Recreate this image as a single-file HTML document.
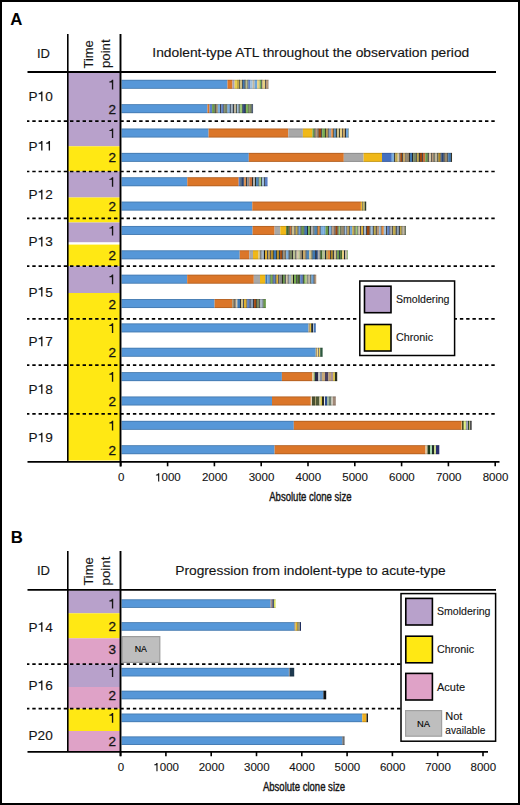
<!DOCTYPE html>
<html><head><meta charset="utf-8"><style>
html,body{margin:0;padding:0;background:#fff;}
body{width:520px;height:805px;overflow:hidden;position:relative;}
#frame{position:absolute;left:0;top:0;width:520px;height:805px;box-sizing:border-box;border:2px solid #000;}
svg{position:absolute;left:0;top:0;font-family:"Liberation Sans", sans-serif;}
</style></head><body>
<svg width="520" height="805" viewBox="0 0 520 805">
<text x="10.30" y="25.20" font-size="16.8" text-anchor="start" fill="#000" font-weight="bold">A</text>
<text x="37.00" y="57.50" font-size="13" text-anchor="start" fill="#141414" stroke="#141414" stroke-width="0.12">ID</text>
<text x="92.90" y="68.40" font-size="13.2" text-anchor="start" fill="#141414" stroke="#141414" stroke-width="0.12" textLength="28.2" lengthAdjust="spacingAndGlyphs" transform="rotate(-90 92.90 68.40)">Time</text>
<text x="109.90" y="68.10" font-size="12.8" text-anchor="start" fill="#141414" stroke="#141414" stroke-width="0.12" textLength="28.8" lengthAdjust="spacingAndGlyphs" transform="rotate(-90 109.90 68.10)">point</text>
<text x="310.80" y="57.20" font-size="12.3" text-anchor="middle" fill="#141414" stroke="#141414" stroke-width="0.12" textLength="317" lengthAdjust="spacingAndGlyphs">Indolent-type ATL throughout the observation period</text>
<rect x="68.00" y="73.00" width="52.50" height="48.20" fill="#B8A1CB"/>
<rect x="68.00" y="121.20" width="52.50" height="25.10" fill="#B8A1CB"/>
<rect x="68.00" y="146.30" width="52.50" height="25.20" fill="#FFE814"/>
<rect x="68.00" y="171.50" width="52.50" height="26.00" fill="#B8A1CB"/>
<rect x="68.00" y="197.50" width="52.50" height="25.00" fill="#FFE814"/>
<rect x="68.00" y="222.50" width="52.50" height="19.70" fill="#B8A1CB"/>
<rect x="68.00" y="244.60" width="52.50" height="21.60" fill="#FFE814"/>
<rect x="68.00" y="266.20" width="52.50" height="26.80" fill="#B8A1CB"/>
<rect x="68.00" y="293.00" width="52.50" height="25.90" fill="#FFE814"/>
<rect x="68.00" y="318.90" width="52.50" height="141.60" fill="#FFE814"/>
<rect x="121.50" y="79.80" width="106.00" height="9.00" fill="#5697D8"/>
<rect x="227.50" y="79.80" width="5.00" height="9.00" fill="#DB7629"/>
<rect x="232.50" y="79.80" width="2.10" height="9.00" fill="#A8A0B8"/>
<rect x="234.60" y="79.80" width="2.40" height="9.00" fill="#E8D050"/>
<rect x="237.00" y="79.80" width="2.05" height="9.00" fill="#C0A848"/>
<rect x="239.00" y="79.80" width="0.85" height="9.00" fill="#2a3020"/>
<rect x="239.80" y="79.80" width="2.25" height="9.00" fill="#D0C088"/>
<rect x="242.00" y="79.80" width="0.85" height="9.00" fill="#303030"/>
<rect x="242.80" y="79.80" width="1.85" height="9.00" fill="#3F78B0"/>
<rect x="244.60" y="79.80" width="1.05" height="9.00" fill="#1c1c1c"/>
<rect x="245.60" y="79.80" width="2.05" height="9.00" fill="#B8C090"/>
<rect x="247.60" y="79.80" width="0.85" height="9.00" fill="#222630"/>
<rect x="248.40" y="79.80" width="2.05" height="9.00" fill="#5A80C8"/>
<rect x="250.40" y="79.80" width="2.25" height="9.00" fill="#A0C0DC"/>
<rect x="252.60" y="79.80" width="2.05" height="9.00" fill="#C0B8A0"/>
<rect x="254.60" y="79.80" width="2.65" height="9.00" fill="#6BA3D8"/>
<rect x="257.20" y="79.80" width="2.45" height="9.00" fill="#E8D080"/>
<rect x="259.60" y="79.80" width="1.85" height="9.00" fill="#78B050"/>
<rect x="261.40" y="79.80" width="1.05" height="9.00" fill="#222630"/>
<rect x="262.40" y="79.80" width="2.65" height="9.00" fill="#E8D080"/>
<rect x="265.00" y="79.80" width="0.85" height="9.00" fill="#222630"/>
<rect x="265.80" y="79.80" width="2.45" height="9.00" fill="#B89878"/>
<rect x="268.20" y="79.80" width="0.35" height="9.00" fill="#8A8A8A"/>
<rect x="121.50" y="79.80" width="147.00" height="0.90" fill="rgba(0,0,0,0.18)"/>
<rect x="121.50" y="87.90" width="147.00" height="0.90" fill="rgba(0,0,0,0.18)"/>
<rect x="121.50" y="104.16" width="86.00" height="9.00" fill="#5697D8"/>
<rect x="207.50" y="104.16" width="2.00" height="9.00" fill="#DB7629"/>
<rect x="209.50" y="104.16" width="2.65" height="9.00" fill="#5A80C8"/>
<rect x="212.10" y="104.16" width="2.65" height="9.00" fill="#6A9A49"/>
<rect x="214.70" y="104.16" width="1.15" height="9.00" fill="#303030"/>
<rect x="215.80" y="104.16" width="2.05" height="9.00" fill="#9A8A6A"/>
<rect x="217.80" y="104.16" width="2.45" height="9.00" fill="#7CAFDD"/>
<rect x="220.20" y="104.16" width="1.05" height="9.00" fill="#1c1c1c"/>
<rect x="221.20" y="104.16" width="2.25" height="9.00" fill="#5A80C8"/>
<rect x="223.40" y="104.16" width="1.05" height="9.00" fill="#303030"/>
<rect x="224.40" y="104.16" width="2.25" height="9.00" fill="#7A8A60"/>
<rect x="226.60" y="104.16" width="0.85" height="9.00" fill="#2a3020"/>
<rect x="227.40" y="104.16" width="2.45" height="9.00" fill="#7CAFDD"/>
<rect x="229.80" y="104.16" width="1.05" height="9.00" fill="#1f2a3a"/>
<rect x="230.80" y="104.16" width="2.05" height="9.00" fill="#A6B8C8"/>
<rect x="232.80" y="104.16" width="1.15" height="9.00" fill="#1f2a3a"/>
<rect x="233.90" y="104.16" width="2.25" height="9.00" fill="#C0B8A0"/>
<rect x="236.10" y="104.16" width="0.85" height="9.00" fill="#2a3020"/>
<rect x="236.90" y="104.16" width="1.85" height="9.00" fill="#A0C0DC"/>
<rect x="238.70" y="104.16" width="1.05" height="9.00" fill="#222630"/>
<rect x="239.70" y="104.16" width="2.65" height="9.00" fill="#9CC878"/>
<rect x="242.30" y="104.16" width="0.85" height="9.00" fill="#1f2a3a"/>
<rect x="243.10" y="104.16" width="2.25" height="9.00" fill="#264478"/>
<rect x="245.30" y="104.16" width="0.85" height="9.00" fill="#1c1c1c"/>
<rect x="246.10" y="104.16" width="2.45" height="9.00" fill="#78B050"/>
<rect x="248.50" y="104.16" width="0.85" height="9.00" fill="#2a3020"/>
<rect x="249.30" y="104.16" width="2.25" height="9.00" fill="#7A8A60"/>
<rect x="251.50" y="104.16" width="1.15" height="9.00" fill="#1f2a3a"/>
<rect x="252.60" y="104.16" width="0.45" height="9.00" fill="#264478"/>
<rect x="121.50" y="104.16" width="131.50" height="0.90" fill="rgba(0,0,0,0.18)"/>
<rect x="121.50" y="112.26" width="131.50" height="0.90" fill="rgba(0,0,0,0.18)"/>
<rect x="121.50" y="128.52" width="87.10" height="9.00" fill="#5697D8"/>
<rect x="208.60" y="128.52" width="79.70" height="9.00" fill="#DB7629"/>
<rect x="288.30" y="128.52" width="14.60" height="9.00" fill="#A8A8A8"/>
<rect x="302.90" y="128.52" width="9.60" height="9.00" fill="#F0B818"/>
<rect x="312.50" y="128.52" width="2.05" height="9.00" fill="#6A9A49"/>
<rect x="314.50" y="128.52" width="1.15" height="9.00" fill="#303030"/>
<rect x="315.60" y="128.52" width="2.05" height="9.00" fill="#B89878"/>
<rect x="317.60" y="128.52" width="1.05" height="9.00" fill="#303030"/>
<rect x="318.60" y="128.52" width="2.65" height="9.00" fill="#9E480E"/>
<rect x="321.20" y="128.52" width="1.15" height="9.00" fill="#303030"/>
<rect x="322.30" y="128.52" width="2.65" height="9.00" fill="#78B050"/>
<rect x="324.90" y="128.52" width="1.05" height="9.00" fill="#2a3020"/>
<rect x="325.90" y="128.52" width="2.05" height="9.00" fill="#B89A50"/>
<rect x="327.90" y="128.52" width="0.85" height="9.00" fill="#222630"/>
<rect x="328.70" y="128.52" width="2.65" height="9.00" fill="#8AA0B8"/>
<rect x="331.30" y="128.52" width="2.05" height="9.00" fill="#E08A40"/>
<rect x="333.30" y="128.52" width="1.05" height="9.00" fill="#2a3020"/>
<rect x="334.30" y="128.52" width="1.85" height="9.00" fill="#4F86B8"/>
<rect x="336.10" y="128.52" width="1.05" height="9.00" fill="#2a3020"/>
<rect x="337.10" y="128.52" width="2.05" height="9.00" fill="#D0C088"/>
<rect x="339.10" y="128.52" width="1.05" height="9.00" fill="#2a3020"/>
<rect x="340.10" y="128.52" width="2.05" height="9.00" fill="#E8D080"/>
<rect x="342.10" y="128.52" width="0.85" height="9.00" fill="#303030"/>
<rect x="342.90" y="128.52" width="2.05" height="9.00" fill="#C8A868"/>
<rect x="344.90" y="128.52" width="1.15" height="9.00" fill="#303030"/>
<rect x="346.00" y="128.52" width="2.45" height="9.00" fill="#6BA3D8"/>
<rect x="348.40" y="128.52" width="0.45" height="9.00" fill="#7A8A60"/>
<rect x="121.50" y="128.52" width="227.30" height="0.90" fill="rgba(0,0,0,0.18)"/>
<rect x="121.50" y="136.62" width="227.30" height="0.90" fill="rgba(0,0,0,0.18)"/>
<rect x="121.50" y="152.88" width="127.30" height="9.00" fill="#5697D8"/>
<rect x="248.80" y="152.88" width="95.00" height="9.00" fill="#DB7629"/>
<rect x="343.80" y="152.88" width="19.80" height="9.00" fill="#A8A8A8"/>
<rect x="363.60" y="152.88" width="18.40" height="9.00" fill="#F0B818"/>
<rect x="382.00" y="152.88" width="9.80" height="9.00" fill="#4570C0"/>
<rect x="391.80" y="152.88" width="2.45" height="9.00" fill="#7CAFDD"/>
<rect x="394.20" y="152.88" width="1.15" height="9.00" fill="#1c1c1c"/>
<rect x="395.30" y="152.88" width="2.45" height="9.00" fill="#C0A848"/>
<rect x="397.70" y="152.88" width="1.85" height="9.00" fill="#D8C8A8"/>
<rect x="399.50" y="152.88" width="0.85" height="9.00" fill="#303030"/>
<rect x="400.30" y="152.88" width="1.85" height="9.00" fill="#9E480E"/>
<rect x="402.10" y="152.88" width="0.85" height="9.00" fill="#222630"/>
<rect x="402.90" y="152.88" width="2.65" height="9.00" fill="#C8A868"/>
<rect x="405.50" y="152.88" width="1.05" height="9.00" fill="#303030"/>
<rect x="406.50" y="152.88" width="2.45" height="9.00" fill="#9A8A6A"/>
<rect x="408.90" y="152.88" width="1.15" height="9.00" fill="#303030"/>
<rect x="410.00" y="152.88" width="2.05" height="9.00" fill="#3F78B0"/>
<rect x="412.00" y="152.88" width="1.15" height="9.00" fill="#222630"/>
<rect x="413.10" y="152.88" width="2.65" height="9.00" fill="#7A8A60"/>
<rect x="415.70" y="152.88" width="1.15" height="9.00" fill="#1f2a3a"/>
<rect x="416.80" y="152.88" width="2.05" height="9.00" fill="#C0A848"/>
<rect x="418.80" y="152.88" width="1.15" height="9.00" fill="#303030"/>
<rect x="419.90" y="152.88" width="2.25" height="9.00" fill="#9E480E"/>
<rect x="422.10" y="152.88" width="0.85" height="9.00" fill="#222630"/>
<rect x="422.90" y="152.88" width="2.45" height="9.00" fill="#C8703A"/>
<rect x="425.30" y="152.88" width="2.45" height="9.00" fill="#6A9A49"/>
<rect x="427.70" y="152.88" width="1.15" height="9.00" fill="#1c1c1c"/>
<rect x="428.80" y="152.88" width="2.25" height="9.00" fill="#D8C8A8"/>
<rect x="431.00" y="152.88" width="0.85" height="9.00" fill="#303030"/>
<rect x="431.80" y="152.88" width="1.85" height="9.00" fill="#B89878"/>
<rect x="433.60" y="152.88" width="1.15" height="9.00" fill="#2a3020"/>
<rect x="434.70" y="152.88" width="2.65" height="9.00" fill="#C0B8A0"/>
<rect x="437.30" y="152.88" width="1.15" height="9.00" fill="#2a3020"/>
<rect x="438.40" y="152.88" width="2.25" height="9.00" fill="#B08820"/>
<rect x="440.60" y="152.88" width="0.85" height="9.00" fill="#1f2a3a"/>
<rect x="441.40" y="152.88" width="2.25" height="9.00" fill="#264478"/>
<rect x="443.60" y="152.88" width="1.15" height="9.00" fill="#222630"/>
<rect x="444.70" y="152.88" width="2.65" height="9.00" fill="#9A8A6A"/>
<rect x="447.30" y="152.88" width="1.05" height="9.00" fill="#222630"/>
<rect x="448.30" y="152.88" width="2.65" height="9.00" fill="#3F78B0"/>
<rect x="450.90" y="152.88" width="1.05" height="9.00" fill="#1c1c1c"/>
<rect x="451.90" y="152.88" width="0.15" height="9.00" fill="#C0A848"/>
<rect x="121.50" y="152.88" width="330.50" height="0.90" fill="rgba(0,0,0,0.18)"/>
<rect x="121.50" y="160.98" width="330.50" height="0.90" fill="rgba(0,0,0,0.18)"/>
<rect x="121.50" y="177.24" width="65.80" height="9.00" fill="#5697D8"/>
<rect x="187.30" y="177.24" width="51.40" height="9.00" fill="#DB7629"/>
<rect x="238.70" y="177.24" width="1.85" height="9.00" fill="#5A80C8"/>
<rect x="240.50" y="177.24" width="0.85" height="9.00" fill="#2a3020"/>
<rect x="241.30" y="177.24" width="2.25" height="9.00" fill="#264478"/>
<rect x="243.50" y="177.24" width="0.85" height="9.00" fill="#222630"/>
<rect x="244.30" y="177.24" width="1.85" height="9.00" fill="#E08A40"/>
<rect x="246.10" y="177.24" width="1.15" height="9.00" fill="#1f2a3a"/>
<rect x="247.20" y="177.24" width="2.25" height="9.00" fill="#8A8A8A"/>
<rect x="249.40" y="177.24" width="2.65" height="9.00" fill="#C8703A"/>
<rect x="252.00" y="177.24" width="1.05" height="9.00" fill="#303030"/>
<rect x="253.00" y="177.24" width="2.05" height="9.00" fill="#B0B0B0"/>
<rect x="255.00" y="177.24" width="1.05" height="9.00" fill="#2a3020"/>
<rect x="256.00" y="177.24" width="2.65" height="9.00" fill="#4F86B8"/>
<rect x="258.60" y="177.24" width="0.85" height="9.00" fill="#303030"/>
<rect x="259.40" y="177.24" width="1.85" height="9.00" fill="#9CC878"/>
<rect x="261.20" y="177.24" width="0.85" height="9.00" fill="#222630"/>
<rect x="262.00" y="177.24" width="2.25" height="9.00" fill="#A0C0DC"/>
<rect x="264.20" y="177.24" width="0.85" height="9.00" fill="#1f2a3a"/>
<rect x="265.00" y="177.24" width="2.55" height="9.00" fill="#5A80C8"/>
<rect x="121.50" y="177.24" width="146.00" height="0.90" fill="rgba(0,0,0,0.18)"/>
<rect x="121.50" y="185.34" width="146.00" height="0.90" fill="rgba(0,0,0,0.18)"/>
<rect x="121.50" y="201.60" width="130.80" height="9.00" fill="#5697D8"/>
<rect x="252.30" y="201.60" width="108.60" height="9.00" fill="#DB7629"/>
<rect x="360.90" y="201.60" width="1.40" height="9.00" fill="#E8B830"/>
<rect x="362.30" y="201.60" width="0.60" height="9.00" fill="#3A3A2A"/>
<rect x="362.90" y="201.60" width="1.80" height="9.00" fill="#C8B860"/>
<rect x="364.70" y="201.60" width="1.50" height="9.00" fill="#2A3A2A"/>
<rect x="121.50" y="201.60" width="244.70" height="0.90" fill="rgba(0,0,0,0.18)"/>
<rect x="121.50" y="209.70" width="244.70" height="0.90" fill="rgba(0,0,0,0.18)"/>
<rect x="121.50" y="225.96" width="131.10" height="9.00" fill="#5697D8"/>
<rect x="252.60" y="225.96" width="22.00" height="9.00" fill="#DB7629"/>
<rect x="274.60" y="225.96" width="5.70" height="9.00" fill="#A8A8A8"/>
<rect x="280.30" y="225.96" width="5.90" height="9.00" fill="#F0B818"/>
<rect x="286.20" y="225.96" width="2.45" height="9.00" fill="#43682B"/>
<rect x="288.60" y="225.96" width="1.15" height="9.00" fill="#2a3020"/>
<rect x="289.70" y="225.96" width="1.85" height="9.00" fill="#C8703A"/>
<rect x="291.50" y="225.96" width="0.85" height="9.00" fill="#2a3020"/>
<rect x="292.30" y="225.96" width="2.25" height="9.00" fill="#D0C088"/>
<rect x="294.50" y="225.96" width="1.15" height="9.00" fill="#1f2a3a"/>
<rect x="295.60" y="225.96" width="2.05" height="9.00" fill="#C0A848"/>
<rect x="297.60" y="225.96" width="1.05" height="9.00" fill="#222630"/>
<rect x="298.60" y="225.96" width="2.05" height="9.00" fill="#6BA3D8"/>
<rect x="300.60" y="225.96" width="1.05" height="9.00" fill="#1c1c1c"/>
<rect x="301.60" y="225.96" width="2.25" height="9.00" fill="#6A9A49"/>
<rect x="303.80" y="225.96" width="0.85" height="9.00" fill="#222630"/>
<rect x="304.60" y="225.96" width="2.45" height="9.00" fill="#3F78B0"/>
<rect x="307.00" y="225.96" width="1.15" height="9.00" fill="#1f2a3a"/>
<rect x="308.10" y="225.96" width="1.85" height="9.00" fill="#78B050"/>
<rect x="309.90" y="225.96" width="1.05" height="9.00" fill="#2a3020"/>
<rect x="310.90" y="225.96" width="2.65" height="9.00" fill="#B0B0B0"/>
<rect x="313.50" y="225.96" width="1.05" height="9.00" fill="#2a3020"/>
<rect x="314.50" y="225.96" width="2.45" height="9.00" fill="#4F86B8"/>
<rect x="316.90" y="225.96" width="0.85" height="9.00" fill="#2a3020"/>
<rect x="317.70" y="225.96" width="2.05" height="9.00" fill="#E08A40"/>
<rect x="319.70" y="225.96" width="1.05" height="9.00" fill="#303030"/>
<rect x="320.70" y="225.96" width="2.65" height="9.00" fill="#7CAFDD"/>
<rect x="323.30" y="225.96" width="2.25" height="9.00" fill="#6BA3D8"/>
<rect x="325.50" y="225.96" width="2.65" height="9.00" fill="#6A9A49"/>
<rect x="328.10" y="225.96" width="1.05" height="9.00" fill="#303030"/>
<rect x="329.10" y="225.96" width="2.45" height="9.00" fill="#7CAFDD"/>
<rect x="331.50" y="225.96" width="0.85" height="9.00" fill="#303030"/>
<rect x="332.30" y="225.96" width="2.25" height="9.00" fill="#B89878"/>
<rect x="334.50" y="225.96" width="1.05" height="9.00" fill="#222630"/>
<rect x="335.50" y="225.96" width="2.05" height="9.00" fill="#9E480E"/>
<rect x="337.50" y="225.96" width="1.15" height="9.00" fill="#303030"/>
<rect x="338.60" y="225.96" width="1.85" height="9.00" fill="#9CC878"/>
<rect x="340.40" y="225.96" width="1.15" height="9.00" fill="#2a3020"/>
<rect x="341.50" y="225.96" width="2.45" height="9.00" fill="#9A8A6A"/>
<rect x="343.90" y="225.96" width="0.85" height="9.00" fill="#222630"/>
<rect x="344.70" y="225.96" width="1.85" height="9.00" fill="#A0C0DC"/>
<rect x="346.50" y="225.96" width="0.85" height="9.00" fill="#1f2a3a"/>
<rect x="347.30" y="225.96" width="2.05" height="9.00" fill="#B89A50"/>
<rect x="349.30" y="225.96" width="0.85" height="9.00" fill="#303030"/>
<rect x="350.10" y="225.96" width="2.25" height="9.00" fill="#6BA3D8"/>
<rect x="352.30" y="225.96" width="2.25" height="9.00" fill="#C0A848"/>
<rect x="354.50" y="225.96" width="1.15" height="9.00" fill="#303030"/>
<rect x="355.60" y="225.96" width="2.05" height="9.00" fill="#9CC878"/>
<rect x="357.60" y="225.96" width="0.85" height="9.00" fill="#1f2a3a"/>
<rect x="358.40" y="225.96" width="1.85" height="9.00" fill="#D8C8A8"/>
<rect x="360.20" y="225.96" width="1.15" height="9.00" fill="#222630"/>
<rect x="361.30" y="225.96" width="1.85" height="9.00" fill="#E0B030"/>
<rect x="363.10" y="225.96" width="0.85" height="9.00" fill="#303030"/>
<rect x="363.90" y="225.96" width="2.25" height="9.00" fill="#A6B8C8"/>
<rect x="366.10" y="225.96" width="0.85" height="9.00" fill="#1f2a3a"/>
<rect x="366.90" y="225.96" width="2.65" height="9.00" fill="#9E480E"/>
<rect x="369.50" y="225.96" width="1.15" height="9.00" fill="#303030"/>
<rect x="370.60" y="225.96" width="2.25" height="9.00" fill="#A0C0DC"/>
<rect x="372.80" y="225.96" width="1.05" height="9.00" fill="#1f2a3a"/>
<rect x="373.80" y="225.96" width="2.05" height="9.00" fill="#C0A848"/>
<rect x="375.80" y="225.96" width="1.05" height="9.00" fill="#303030"/>
<rect x="376.80" y="225.96" width="2.25" height="9.00" fill="#B89878"/>
<rect x="379.00" y="225.96" width="1.85" height="9.00" fill="#A0C0DC"/>
<rect x="380.80" y="225.96" width="0.85" height="9.00" fill="#303030"/>
<rect x="381.60" y="225.96" width="2.25" height="9.00" fill="#E08A40"/>
<rect x="383.80" y="225.96" width="2.45" height="9.00" fill="#A0C0DC"/>
<rect x="386.20" y="225.96" width="1.15" height="9.00" fill="#1c1c1c"/>
<rect x="387.30" y="225.96" width="2.25" height="9.00" fill="#5A80C8"/>
<rect x="389.50" y="225.96" width="1.05" height="9.00" fill="#303030"/>
<rect x="390.50" y="225.96" width="1.85" height="9.00" fill="#B0B0B0"/>
<rect x="392.30" y="225.96" width="0.85" height="9.00" fill="#1c1c1c"/>
<rect x="393.10" y="225.96" width="2.65" height="9.00" fill="#C0A848"/>
<rect x="395.70" y="225.96" width="1.15" height="9.00" fill="#222630"/>
<rect x="396.80" y="225.96" width="2.05" height="9.00" fill="#8AA0B8"/>
<rect x="398.80" y="225.96" width="1.15" height="9.00" fill="#303030"/>
<rect x="399.90" y="225.96" width="1.85" height="9.00" fill="#C0A848"/>
<rect x="401.70" y="225.96" width="0.85" height="9.00" fill="#303030"/>
<rect x="402.50" y="225.96" width="2.25" height="9.00" fill="#C0B8A0"/>
<rect x="404.70" y="225.96" width="0.85" height="9.00" fill="#1c1c1c"/>
<rect x="405.50" y="225.96" width="0.35" height="9.00" fill="#43682B"/>
<rect x="121.50" y="225.96" width="284.30" height="0.90" fill="rgba(0,0,0,0.18)"/>
<rect x="121.50" y="234.06" width="284.30" height="0.90" fill="rgba(0,0,0,0.18)"/>
<rect x="121.50" y="250.32" width="118.20" height="9.00" fill="#5697D8"/>
<rect x="239.70" y="250.32" width="9.50" height="9.00" fill="#DB7629"/>
<rect x="249.20" y="250.32" width="3.80" height="9.00" fill="#A8A8A8"/>
<rect x="253.00" y="250.32" width="5.50" height="9.00" fill="#F0B818"/>
<rect x="258.50" y="250.32" width="2.05" height="9.00" fill="#D0C088"/>
<rect x="260.50" y="250.32" width="1.05" height="9.00" fill="#222630"/>
<rect x="261.50" y="250.32" width="2.45" height="9.00" fill="#A6B8C8"/>
<rect x="263.90" y="250.32" width="1.15" height="9.00" fill="#1c1c1c"/>
<rect x="265.00" y="250.32" width="2.25" height="9.00" fill="#E0B030"/>
<rect x="267.20" y="250.32" width="1.15" height="9.00" fill="#222630"/>
<rect x="268.30" y="250.32" width="2.05" height="9.00" fill="#B89A50"/>
<rect x="270.30" y="250.32" width="0.85" height="9.00" fill="#1c1c1c"/>
<rect x="271.10" y="250.32" width="2.05" height="9.00" fill="#B08820"/>
<rect x="273.10" y="250.32" width="0.85" height="9.00" fill="#2a3020"/>
<rect x="273.90" y="250.32" width="2.25" height="9.00" fill="#3F78B0"/>
<rect x="276.10" y="250.32" width="1.05" height="9.00" fill="#2a3020"/>
<rect x="277.10" y="250.32" width="2.05" height="9.00" fill="#B08820"/>
<rect x="279.10" y="250.32" width="1.05" height="9.00" fill="#1f2a3a"/>
<rect x="280.10" y="250.32" width="2.25" height="9.00" fill="#9E480E"/>
<rect x="282.30" y="250.32" width="1.15" height="9.00" fill="#1f2a3a"/>
<rect x="283.40" y="250.32" width="2.05" height="9.00" fill="#9A8A6A"/>
<rect x="285.40" y="250.32" width="0.85" height="9.00" fill="#303030"/>
<rect x="286.20" y="250.32" width="2.45" height="9.00" fill="#7CAFDD"/>
<rect x="288.60" y="250.32" width="1.15" height="9.00" fill="#222630"/>
<rect x="289.70" y="250.32" width="2.25" height="9.00" fill="#7A8A60"/>
<rect x="291.90" y="250.32" width="1.15" height="9.00" fill="#303030"/>
<rect x="293.00" y="250.32" width="2.45" height="9.00" fill="#B8C090"/>
<rect x="295.40" y="250.32" width="1.15" height="9.00" fill="#303030"/>
<rect x="296.50" y="250.32" width="1.85" height="9.00" fill="#D8C8A8"/>
<rect x="298.30" y="250.32" width="1.85" height="9.00" fill="#B8C090"/>
<rect x="300.10" y="250.32" width="1.85" height="9.00" fill="#9A8A6A"/>
<rect x="301.90" y="250.32" width="1.15" height="9.00" fill="#303030"/>
<rect x="303.00" y="250.32" width="2.65" height="9.00" fill="#C8A868"/>
<rect x="305.60" y="250.32" width="1.05" height="9.00" fill="#1f2a3a"/>
<rect x="306.60" y="250.32" width="2.65" height="9.00" fill="#4F86B8"/>
<rect x="309.20" y="250.32" width="2.45" height="9.00" fill="#D0C088"/>
<rect x="311.60" y="250.32" width="1.05" height="9.00" fill="#2a3020"/>
<rect x="312.60" y="250.32" width="2.45" height="9.00" fill="#3F78B0"/>
<rect x="315.00" y="250.32" width="0.85" height="9.00" fill="#1c1c1c"/>
<rect x="315.80" y="250.32" width="2.05" height="9.00" fill="#264478"/>
<rect x="317.80" y="250.32" width="2.05" height="9.00" fill="#B0B0B0"/>
<rect x="319.80" y="250.32" width="0.85" height="9.00" fill="#2a3020"/>
<rect x="320.60" y="250.32" width="1.85" height="9.00" fill="#43682B"/>
<rect x="322.40" y="250.32" width="2.65" height="9.00" fill="#B8C090"/>
<rect x="325.00" y="250.32" width="1.05" height="9.00" fill="#1f2a3a"/>
<rect x="326.00" y="250.32" width="1.85" height="9.00" fill="#B89A50"/>
<rect x="327.80" y="250.32" width="2.45" height="9.00" fill="#E08A40"/>
<rect x="330.20" y="250.32" width="0.85" height="9.00" fill="#1c1c1c"/>
<rect x="331.00" y="250.32" width="1.85" height="9.00" fill="#B08820"/>
<rect x="332.80" y="250.32" width="1.15" height="9.00" fill="#222630"/>
<rect x="333.90" y="250.32" width="2.45" height="9.00" fill="#D0C088"/>
<rect x="336.30" y="250.32" width="0.85" height="9.00" fill="#222630"/>
<rect x="337.10" y="250.32" width="2.05" height="9.00" fill="#6A9A49"/>
<rect x="339.10" y="250.32" width="1.15" height="9.00" fill="#1f2a3a"/>
<rect x="340.20" y="250.32" width="1.85" height="9.00" fill="#43682B"/>
<rect x="342.00" y="250.32" width="2.05" height="9.00" fill="#E8D080"/>
<rect x="344.00" y="250.32" width="1.15" height="9.00" fill="#222630"/>
<rect x="345.10" y="250.32" width="2.05" height="9.00" fill="#C0B8A0"/>
<rect x="347.10" y="250.32" width="0.65" height="9.00" fill="#6A9A49"/>
<rect x="121.50" y="250.32" width="226.20" height="0.90" fill="rgba(0,0,0,0.18)"/>
<rect x="121.50" y="258.42" width="226.20" height="0.90" fill="rgba(0,0,0,0.18)"/>
<rect x="121.50" y="274.68" width="65.70" height="9.00" fill="#5697D8"/>
<rect x="187.20" y="274.68" width="66.60" height="9.00" fill="#DB7629"/>
<rect x="253.80" y="274.68" width="6.20" height="9.00" fill="#A8A8A8"/>
<rect x="260.00" y="274.68" width="5.40" height="9.00" fill="#F0B818"/>
<rect x="265.40" y="274.68" width="2.05" height="9.00" fill="#3F78B0"/>
<rect x="267.40" y="274.68" width="2.45" height="9.00" fill="#6BA3D8"/>
<rect x="269.80" y="274.68" width="0.85" height="9.00" fill="#1f2a3a"/>
<rect x="270.60" y="274.68" width="2.05" height="9.00" fill="#78B050"/>
<rect x="272.60" y="274.68" width="1.05" height="9.00" fill="#222630"/>
<rect x="273.60" y="274.68" width="1.85" height="9.00" fill="#5A80C8"/>
<rect x="275.40" y="274.68" width="1.15" height="9.00" fill="#2a3020"/>
<rect x="276.50" y="274.68" width="1.85" height="9.00" fill="#E0B030"/>
<rect x="278.30" y="274.68" width="1.05" height="9.00" fill="#222630"/>
<rect x="279.30" y="274.68" width="2.65" height="9.00" fill="#8A8A8A"/>
<rect x="281.90" y="274.68" width="1.15" height="9.00" fill="#2a3020"/>
<rect x="283.00" y="274.68" width="1.85" height="9.00" fill="#6A9A49"/>
<rect x="284.80" y="274.68" width="1.05" height="9.00" fill="#222630"/>
<rect x="285.80" y="274.68" width="2.05" height="9.00" fill="#D8C8A8"/>
<rect x="287.80" y="274.68" width="0.85" height="9.00" fill="#1c1c1c"/>
<rect x="288.60" y="274.68" width="2.45" height="9.00" fill="#A6B8C8"/>
<rect x="291.00" y="274.68" width="2.05" height="9.00" fill="#B8C090"/>
<rect x="293.00" y="274.68" width="1.05" height="9.00" fill="#1c1c1c"/>
<rect x="294.00" y="274.68" width="2.25" height="9.00" fill="#78B050"/>
<rect x="296.20" y="274.68" width="1.05" height="9.00" fill="#303030"/>
<rect x="297.20" y="274.68" width="2.05" height="9.00" fill="#43682B"/>
<rect x="299.20" y="274.68" width="1.15" height="9.00" fill="#2a3020"/>
<rect x="300.30" y="274.68" width="2.45" height="9.00" fill="#5A80C8"/>
<rect x="302.70" y="274.68" width="1.15" height="9.00" fill="#222630"/>
<rect x="303.80" y="274.68" width="1.85" height="9.00" fill="#78B050"/>
<rect x="305.60" y="274.68" width="2.05" height="9.00" fill="#B8C090"/>
<rect x="307.60" y="274.68" width="0.85" height="9.00" fill="#1f2a3a"/>
<rect x="308.40" y="274.68" width="2.05" height="9.00" fill="#C0B8A0"/>
<rect x="310.40" y="274.68" width="1.05" height="9.00" fill="#2a3020"/>
<rect x="311.40" y="274.68" width="2.25" height="9.00" fill="#6BA3D8"/>
<rect x="313.60" y="274.68" width="1.05" height="9.00" fill="#1c1c1c"/>
<rect x="314.60" y="274.68" width="1.65" height="9.00" fill="#B89878"/>
<rect x="121.50" y="274.68" width="194.70" height="0.90" fill="rgba(0,0,0,0.18)"/>
<rect x="121.50" y="282.78" width="194.70" height="0.90" fill="rgba(0,0,0,0.18)"/>
<rect x="121.50" y="299.04" width="93.10" height="9.00" fill="#5697D8"/>
<rect x="214.60" y="299.04" width="17.70" height="9.00" fill="#DB7629"/>
<rect x="232.30" y="299.04" width="2.25" height="9.00" fill="#9A8A6A"/>
<rect x="234.50" y="299.04" width="1.15" height="9.00" fill="#1c1c1c"/>
<rect x="235.60" y="299.04" width="1.85" height="9.00" fill="#D8C8A8"/>
<rect x="237.40" y="299.04" width="2.65" height="9.00" fill="#3F78B0"/>
<rect x="240.00" y="299.04" width="1.05" height="9.00" fill="#303030"/>
<rect x="241.00" y="299.04" width="2.25" height="9.00" fill="#D0C088"/>
<rect x="243.20" y="299.04" width="0.85" height="9.00" fill="#1f2a3a"/>
<rect x="244.00" y="299.04" width="2.65" height="9.00" fill="#E0B030"/>
<rect x="246.60" y="299.04" width="0.85" height="9.00" fill="#1c1c1c"/>
<rect x="247.40" y="299.04" width="2.25" height="9.00" fill="#5A80C8"/>
<rect x="249.60" y="299.04" width="1.15" height="9.00" fill="#222630"/>
<rect x="250.70" y="299.04" width="2.45" height="9.00" fill="#8AA0B8"/>
<rect x="253.10" y="299.04" width="1.05" height="9.00" fill="#222630"/>
<rect x="254.10" y="299.04" width="2.05" height="9.00" fill="#9E480E"/>
<rect x="256.10" y="299.04" width="0.85" height="9.00" fill="#2a3020"/>
<rect x="256.90" y="299.04" width="2.45" height="9.00" fill="#7A8A60"/>
<rect x="259.30" y="299.04" width="1.05" height="9.00" fill="#222630"/>
<rect x="260.30" y="299.04" width="2.45" height="9.00" fill="#A6B8C8"/>
<rect x="262.70" y="299.04" width="0.85" height="9.00" fill="#1f2a3a"/>
<rect x="263.50" y="299.04" width="2.35" height="9.00" fill="#6A9A49"/>
<rect x="121.50" y="299.04" width="144.30" height="0.90" fill="rgba(0,0,0,0.18)"/>
<rect x="121.50" y="307.14" width="144.30" height="0.90" fill="rgba(0,0,0,0.18)"/>
<rect x="121.50" y="323.40" width="187.00" height="9.00" fill="#5697D8"/>
<rect x="308.50" y="323.40" width="1.50" height="9.00" fill="#B8A070"/>
<rect x="310.00" y="323.40" width="1.20" height="9.00" fill="#E8C040"/>
<rect x="311.20" y="323.40" width="1.80" height="9.00" fill="#1E2A30"/>
<rect x="313.00" y="323.40" width="0.60" height="9.00" fill="#F0F0F0"/>
<rect x="313.60" y="323.40" width="2.20" height="9.00" fill="#4A78B8"/>
<rect x="121.50" y="323.40" width="194.30" height="0.90" fill="rgba(0,0,0,0.18)"/>
<rect x="121.50" y="331.50" width="194.30" height="0.90" fill="rgba(0,0,0,0.18)"/>
<rect x="121.50" y="347.76" width="194.20" height="9.00" fill="#5697D8"/>
<rect x="315.70" y="347.76" width="1.30" height="9.00" fill="#B09868"/>
<rect x="317.00" y="347.76" width="1.40" height="9.00" fill="#F0D890"/>
<rect x="318.40" y="347.76" width="0.60" height="9.00" fill="#303030"/>
<rect x="319.00" y="347.76" width="1.20" height="9.00" fill="#E8D060"/>
<rect x="320.20" y="347.76" width="2.40" height="9.00" fill="#2F5A40"/>
<rect x="121.50" y="347.76" width="201.10" height="0.90" fill="rgba(0,0,0,0.18)"/>
<rect x="121.50" y="355.86" width="201.10" height="0.90" fill="rgba(0,0,0,0.18)"/>
<rect x="121.50" y="372.12" width="160.40" height="9.00" fill="#5697D8"/>
<rect x="281.90" y="372.12" width="30.40" height="9.00" fill="#DB7629"/>
<rect x="312.30" y="372.12" width="1.50" height="9.00" fill="#E0C8A0"/>
<rect x="313.80" y="372.12" width="1.00" height="9.00" fill="#78B050"/>
<rect x="314.80" y="372.12" width="3.60" height="9.00" fill="#2A2A48"/>
<rect x="318.40" y="372.12" width="1.40" height="9.00" fill="#D0D0C0"/>
<rect x="319.80" y="372.12" width="2.20" height="9.00" fill="#8890A0"/>
<rect x="322.00" y="372.12" width="3.00" height="9.00" fill="#C8A878"/>
<rect x="325.00" y="372.12" width="3.40" height="9.00" fill="#4A4060"/>
<rect x="328.40" y="372.12" width="2.60" height="9.00" fill="#C0A070"/>
<rect x="331.00" y="372.12" width="2.00" height="9.00" fill="#A89098"/>
<rect x="333.00" y="372.12" width="2.00" height="9.00" fill="#D8C050"/>
<rect x="335.00" y="372.12" width="2.20" height="9.00" fill="#2A3020"/>
<rect x="121.50" y="372.12" width="215.70" height="0.90" fill="rgba(0,0,0,0.18)"/>
<rect x="121.50" y="380.22" width="215.70" height="0.90" fill="rgba(0,0,0,0.18)"/>
<rect x="121.50" y="396.48" width="150.50" height="9.00" fill="#5697D8"/>
<rect x="272.00" y="396.48" width="38.80" height="9.00" fill="#DB7629"/>
<rect x="310.80" y="396.48" width="1.20" height="9.00" fill="#E8D8C0"/>
<rect x="312.00" y="396.48" width="3.00" height="9.00" fill="#4A5030"/>
<rect x="315.00" y="396.48" width="1.00" height="9.00" fill="#A8A070"/>
<rect x="316.00" y="396.48" width="3.50" height="9.00" fill="#505A38"/>
<rect x="319.50" y="396.48" width="1.00" height="9.00" fill="#D8D0A0"/>
<rect x="320.50" y="396.48" width="1.50" height="9.00" fill="#D8C848"/>
<rect x="322.00" y="396.48" width="2.00" height="9.00" fill="#2A2A20"/>
<rect x="324.00" y="396.48" width="1.00" height="9.00" fill="#E8E8E0"/>
<rect x="325.00" y="396.48" width="2.00" height="9.00" fill="#2A4A90"/>
<rect x="327.00" y="396.48" width="2.00" height="9.00" fill="#A0B8A0"/>
<rect x="329.00" y="396.48" width="2.50" height="9.00" fill="#708070"/>
<rect x="331.50" y="396.48" width="1.50" height="9.00" fill="#D0C8B8"/>
<rect x="333.00" y="396.48" width="2.80" height="9.00" fill="#A08878"/>
<rect x="121.50" y="396.48" width="214.30" height="0.90" fill="rgba(0,0,0,0.18)"/>
<rect x="121.50" y="404.58" width="214.30" height="0.90" fill="rgba(0,0,0,0.18)"/>
<rect x="121.50" y="420.84" width="172.30" height="9.00" fill="#5697D8"/>
<rect x="293.80" y="420.84" width="167.20" height="9.00" fill="#DB7629"/>
<rect x="461.00" y="420.84" width="1.00" height="9.00" fill="#E8B070"/>
<rect x="462.00" y="420.84" width="1.80" height="9.00" fill="#4A4A20"/>
<rect x="463.80" y="420.84" width="2.10" height="9.00" fill="#E0F080"/>
<rect x="465.90" y="420.84" width="0.60" height="9.00" fill="#303030"/>
<rect x="466.50" y="420.84" width="1.50" height="9.00" fill="#A0A0C0"/>
<rect x="468.00" y="420.84" width="1.00" height="9.00" fill="#2A4A2A"/>
<rect x="469.00" y="420.84" width="1.20" height="9.00" fill="#B8B878"/>
<rect x="470.20" y="420.84" width="1.40" height="9.00" fill="#2A2A2A"/>
<rect x="121.50" y="420.84" width="350.10" height="0.90" fill="rgba(0,0,0,0.18)"/>
<rect x="121.50" y="428.94" width="350.10" height="0.90" fill="rgba(0,0,0,0.18)"/>
<rect x="121.50" y="445.20" width="153.10" height="9.00" fill="#5697D8"/>
<rect x="274.60" y="445.20" width="150.90" height="9.00" fill="#DB7629"/>
<rect x="425.50" y="445.20" width="2.00" height="9.00" fill="#E0C8A0"/>
<rect x="427.50" y="445.20" width="2.50" height="9.00" fill="#1E3A1E"/>
<rect x="430.00" y="445.20" width="2.00" height="9.00" fill="#A8D8B0"/>
<rect x="432.00" y="445.20" width="2.00" height="9.00" fill="#1E2A2A"/>
<rect x="434.00" y="445.20" width="2.00" height="9.00" fill="#C8D890"/>
<rect x="436.00" y="445.20" width="3.30" height="9.00" fill="#2A3070"/>
<rect x="121.50" y="445.20" width="317.80" height="0.90" fill="rgba(0,0,0,0.18)"/>
<rect x="121.50" y="453.30" width="317.80" height="0.90" fill="rgba(0,0,0,0.18)"/>
<path d="M113.23,89.40 L111.88,89.40 L111.88,82.38 L109.32,82.38 L109.32,81.50 Q111.61,81.43 112.02,79.73 L113.23,79.73 Z" fill="#141414"/>
<text x="116.00" y="113.76" font-size="13.5" text-anchor="end" fill="#141414" stroke="#141414" stroke-width="0.3">2</text>
<path d="M113.23,138.12 L111.88,138.12 L111.88,131.10 L109.32,131.10 L109.32,130.22 Q111.61,130.15 112.02,128.45 L113.23,128.45 Z" fill="#141414"/>
<text x="116.00" y="162.48" font-size="13.5" text-anchor="end" fill="#141414" stroke="#141414" stroke-width="0.3">2</text>
<path d="M113.23,186.84 L111.88,186.84 L111.88,179.82 L109.32,179.82 L109.32,178.94 Q111.61,178.88 112.02,177.17 L113.23,177.17 Z" fill="#141414"/>
<text x="116.00" y="211.20" font-size="13.5" text-anchor="end" fill="#141414" stroke="#141414" stroke-width="0.3">2</text>
<path d="M113.23,235.56 L111.88,235.56 L111.88,228.54 L109.32,228.54 L109.32,227.66 Q111.61,227.59 112.02,225.89 L113.23,225.89 Z" fill="#141414"/>
<text x="116.00" y="259.92" font-size="13.5" text-anchor="end" fill="#141414" stroke="#141414" stroke-width="0.3">2</text>
<path d="M113.23,284.28 L111.88,284.28 L111.88,277.26 L109.32,277.26 L109.32,276.38 Q111.61,276.32 112.02,274.61 L113.23,274.61 Z" fill="#141414"/>
<text x="116.00" y="308.64" font-size="13.5" text-anchor="end" fill="#141414" stroke="#141414" stroke-width="0.3">2</text>
<path d="M113.23,333.00 L111.88,333.00 L111.88,325.98 L109.32,325.98 L109.32,325.10 Q111.61,325.04 112.02,323.33 L113.23,323.33 Z" fill="#141414"/>
<text x="116.00" y="357.36" font-size="13.5" text-anchor="end" fill="#141414" stroke="#141414" stroke-width="0.3">2</text>
<path d="M113.23,381.72 L111.88,381.72 L111.88,374.70 L109.32,374.70 L109.32,373.82 Q111.61,373.76 112.02,372.05 L113.23,372.05 Z" fill="#141414"/>
<text x="116.00" y="406.08" font-size="13.5" text-anchor="end" fill="#141414" stroke="#141414" stroke-width="0.3">2</text>
<path d="M113.23,430.44 L111.88,430.44 L111.88,423.42 L109.32,423.42 L109.32,422.54 Q111.61,422.48 112.02,420.77 L113.23,420.77 Z" fill="#141414"/>
<text x="116.00" y="454.80" font-size="13.5" text-anchor="end" fill="#141414" stroke="#141414" stroke-width="0.3">2</text>
<text x="28.50" y="101.20" font-size="13.4" text-anchor="start" fill="#141414" stroke="#141414" stroke-width="0.12" transform="translate(28.50 101.20) scale(1.015 1) translate(-28.50 -101.20)">P</text>
<path d="M42.47,101.20 L41.13,101.20 L41.13,94.23 L38.58,94.23 L38.58,93.36 Q40.86,93.29 41.26,91.61 L42.47,91.61 Z" fill="#141414"/>
<text x="45.13" y="101.20" font-size="13.4" text-anchor="start" fill="#141414" stroke="#141414" stroke-width="0.12" transform="translate(45.13 101.20) scale(1.015 1) translate(-45.13 -101.20)">0</text>
<text x="28.50" y="150.60" font-size="13.4" text-anchor="start" fill="#141414" stroke="#141414" stroke-width="0.12" transform="translate(28.50 150.60) scale(1.015 1) translate(-28.50 -150.60)">P</text>
<path d="M42.47,150.60 L41.13,150.60 L41.13,143.63 L38.58,143.63 L38.58,142.76 Q40.86,142.69 41.26,141.01 L42.47,141.01 Z" fill="#141414"/>
<path d="M50.03,150.60 L48.69,150.60 L48.69,143.63 L46.14,143.63 L46.14,142.76 Q48.42,142.69 48.82,141.01 L50.03,141.01 Z" fill="#141414"/>
<text x="28.50" y="199.40" font-size="13.4" text-anchor="start" fill="#141414" stroke="#141414" stroke-width="0.12" transform="translate(28.50 199.40) scale(1.015 1) translate(-28.50 -199.40)">P</text>
<path d="M42.47,199.40 L41.13,199.40 L41.13,192.43 L38.58,192.43 L38.58,191.56 Q40.86,191.49 41.26,189.81 L42.47,189.81 Z" fill="#141414"/>
<text x="45.13" y="199.40" font-size="13.4" text-anchor="start" fill="#141414" stroke="#141414" stroke-width="0.12" transform="translate(45.13 199.40) scale(1.015 1) translate(-45.13 -199.40)">2</text>
<text x="28.50" y="246.40" font-size="13.4" text-anchor="start" fill="#141414" stroke="#141414" stroke-width="0.12" transform="translate(28.50 246.40) scale(1.015 1) translate(-28.50 -246.40)">P</text>
<path d="M42.47,246.40 L41.13,246.40 L41.13,239.43 L38.58,239.43 L38.58,238.56 Q40.86,238.49 41.26,236.81 L42.47,236.81 Z" fill="#141414"/>
<text x="45.13" y="246.40" font-size="13.4" text-anchor="start" fill="#141414" stroke="#141414" stroke-width="0.12" transform="translate(45.13 246.40) scale(1.015 1) translate(-45.13 -246.40)">3</text>
<text x="28.50" y="296.60" font-size="13.4" text-anchor="start" fill="#141414" stroke="#141414" stroke-width="0.12" transform="translate(28.50 296.60) scale(1.015 1) translate(-28.50 -296.60)">P</text>
<path d="M42.47,296.60 L41.13,296.60 L41.13,289.63 L38.58,289.63 L38.58,288.76 Q40.86,288.69 41.26,287.01 L42.47,287.01 Z" fill="#141414"/>
<text x="45.13" y="296.60" font-size="13.4" text-anchor="start" fill="#141414" stroke="#141414" stroke-width="0.12" transform="translate(45.13 296.60) scale(1.015 1) translate(-45.13 -296.60)">5</text>
<text x="28.50" y="346.20" font-size="13.4" text-anchor="start" fill="#141414" stroke="#141414" stroke-width="0.12" transform="translate(28.50 346.20) scale(1.015 1) translate(-28.50 -346.20)">P</text>
<path d="M42.47,346.20 L41.13,346.20 L41.13,339.23 L38.58,339.23 L38.58,338.36 Q40.86,338.29 41.26,336.61 L42.47,336.61 Z" fill="#141414"/>
<text x="45.13" y="346.20" font-size="13.4" text-anchor="start" fill="#141414" stroke="#141414" stroke-width="0.12" transform="translate(45.13 346.20) scale(1.015 1) translate(-45.13 -346.20)">7</text>
<text x="28.50" y="393.80" font-size="13.4" text-anchor="start" fill="#141414" stroke="#141414" stroke-width="0.12" transform="translate(28.50 393.80) scale(1.015 1) translate(-28.50 -393.80)">P</text>
<path d="M42.47,393.80 L41.13,393.80 L41.13,386.83 L38.58,386.83 L38.58,385.96 Q40.86,385.89 41.26,384.21 L42.47,384.21 Z" fill="#141414"/>
<text x="45.13" y="393.80" font-size="13.4" text-anchor="start" fill="#141414" stroke="#141414" stroke-width="0.12" transform="translate(45.13 393.80) scale(1.015 1) translate(-45.13 -393.80)">8</text>
<text x="28.50" y="442.30" font-size="13.4" text-anchor="start" fill="#141414" stroke="#141414" stroke-width="0.12" transform="translate(28.50 442.30) scale(1.015 1) translate(-28.50 -442.30)">P</text>
<path d="M42.47,442.30 L41.13,442.30 L41.13,435.33 L38.58,435.33 L38.58,434.46 Q40.86,434.39 41.26,432.71 L42.47,432.71 Z" fill="#141414"/>
<text x="45.13" y="442.30" font-size="13.4" text-anchor="start" fill="#141414" stroke="#141414" stroke-width="0.12" transform="translate(45.13 442.30) scale(1.015 1) translate(-45.13 -442.30)">9</text>
<line x1="27.00" y1="121.20" x2="496.00" y2="121.20" stroke="#000" stroke-width="1.7" stroke-dasharray="3.4 2.888" stroke-dashoffset="1.0"/>
<line x1="27.00" y1="171.50" x2="496.00" y2="171.50" stroke="#000" stroke-width="1.7" stroke-dasharray="3.4 2.888" stroke-dashoffset="1.0"/>
<line x1="27.00" y1="218.30" x2="496.00" y2="218.30" stroke="#000" stroke-width="1.7" stroke-dasharray="3.4 2.888" stroke-dashoffset="1.0"/>
<line x1="27.00" y1="266.20" x2="496.00" y2="266.20" stroke="#000" stroke-width="1.7" stroke-dasharray="3.4 2.888" stroke-dashoffset="1.0"/>
<line x1="27.00" y1="318.90" x2="496.00" y2="318.90" stroke="#000" stroke-width="1.7" stroke-dasharray="3.4 2.888" stroke-dashoffset="1.0"/>
<line x1="27.00" y1="365.20" x2="496.00" y2="365.20" stroke="#000" stroke-width="1.7" stroke-dasharray="3.4 2.888" stroke-dashoffset="1.0"/>
<line x1="27.00" y1="413.90" x2="496.00" y2="413.90" stroke="#000" stroke-width="1.7" stroke-dasharray="3.4 2.888" stroke-dashoffset="1.0"/>
<rect x="359.80" y="281.00" width="94.80" height="74.50" fill="#fff" stroke="#000" stroke-width="1.5"/>
<rect x="364.50" y="286.20" width="26.50" height="26.50" fill="#B8A1CB" stroke="#000" stroke-width="1.6"/>
<rect x="364.50" y="324.50" width="26.50" height="26.50" fill="#FFE814" stroke="#000" stroke-width="1.6"/>
<text x="396.00" y="303.30" font-size="11" text-anchor="start" fill="#141414" stroke="#141414" stroke-width="0.12" textLength="53.5" lengthAdjust="spacingAndGlyphs">Smoldering</text>
<text x="396.00" y="341.00" font-size="11" text-anchor="start" fill="#141414" stroke="#141414" stroke-width="0.12" textLength="37" lengthAdjust="spacingAndGlyphs">Chronic</text>
<line x1="67.80" y1="34.00" x2="67.80" y2="461.50" stroke="#000" stroke-width="1.6"/>
<line x1="120.50" y1="34.00" x2="120.50" y2="466.50" stroke="#000" stroke-width="1.9"/>
<line x1="27.50" y1="72.00" x2="496.00" y2="72.00" stroke="#000" stroke-width="1.8"/>
<line x1="27.50" y1="461.80" x2="499.50" y2="461.80" stroke="#000" stroke-width="1.8"/>
<line x1="120.80" y1="461.80" x2="120.80" y2="466.30" stroke="#000" stroke-width="1.6"/>
<text x="121.10" y="481.40" font-size="11.5" text-anchor="middle" fill="#141414" stroke="#141414" stroke-width="0.12">0</text>
<line x1="167.60" y1="461.80" x2="167.60" y2="466.30" stroke="#000" stroke-width="1.6"/>
<path d="M159.25,481.40 L158.10,481.40 L158.10,475.42 L155.92,475.42 L155.92,474.67 Q157.87,474.61 158.22,473.17 L159.25,473.17 Z" fill="#141414"/>
<text x="161.51" y="481.40" font-size="11.5" text-anchor="start" fill="#141414" stroke="#141414" stroke-width="0.12">000</text>
<line x1="214.40" y1="461.80" x2="214.40" y2="466.30" stroke="#000" stroke-width="1.6"/>
<text x="214.70" y="481.40" font-size="11.5" text-anchor="middle" fill="#141414" stroke="#141414" stroke-width="0.12">2000</text>
<line x1="261.20" y1="461.80" x2="261.20" y2="466.30" stroke="#000" stroke-width="1.6"/>
<text x="261.50" y="481.40" font-size="11.5" text-anchor="middle" fill="#141414" stroke="#141414" stroke-width="0.12">3000</text>
<line x1="308.00" y1="461.80" x2="308.00" y2="466.30" stroke="#000" stroke-width="1.6"/>
<text x="308.30" y="481.40" font-size="11.5" text-anchor="middle" fill="#141414" stroke="#141414" stroke-width="0.12">4000</text>
<line x1="354.80" y1="461.80" x2="354.80" y2="466.30" stroke="#000" stroke-width="1.6"/>
<text x="355.10" y="481.40" font-size="11.5" text-anchor="middle" fill="#141414" stroke="#141414" stroke-width="0.12">5000</text>
<line x1="401.60" y1="461.80" x2="401.60" y2="466.30" stroke="#000" stroke-width="1.6"/>
<text x="401.90" y="481.40" font-size="11.5" text-anchor="middle" fill="#141414" stroke="#141414" stroke-width="0.12">6000</text>
<line x1="448.40" y1="461.80" x2="448.40" y2="466.30" stroke="#000" stroke-width="1.6"/>
<text x="448.70" y="481.40" font-size="11.5" text-anchor="middle" fill="#141414" stroke="#141414" stroke-width="0.12">7000</text>
<line x1="495.20" y1="461.80" x2="495.20" y2="466.30" stroke="#000" stroke-width="1.6"/>
<text x="495.50" y="481.40" font-size="11.5" text-anchor="middle" fill="#141414" stroke="#141414" stroke-width="0.12">8000</text>
<text x="310.40" y="500.90" font-size="13.6" text-anchor="middle" fill="#141414" textLength="82.4" lengthAdjust="spacingAndGlyphs" stroke="#1a1a1a" stroke-width="0.45">Absolute clone size</text>
<text x="10.70" y="542.80" font-size="16.8" text-anchor="start" fill="#000" font-weight="bold">B</text>
<text x="37.00" y="575.20" font-size="13" text-anchor="start" fill="#141414" stroke="#141414" stroke-width="0.12">ID</text>
<text x="92.90" y="585.60" font-size="13.2" text-anchor="start" fill="#141414" stroke="#141414" stroke-width="0.12" textLength="28.2" lengthAdjust="spacingAndGlyphs" transform="rotate(-90 92.90 585.60)">Time</text>
<text x="109.90" y="585.40" font-size="12.8" text-anchor="start" fill="#141414" stroke="#141414" stroke-width="0.12" textLength="28.8" lengthAdjust="spacingAndGlyphs" transform="rotate(-90 109.90 585.40)">point</text>
<text x="310.50" y="574.90" font-size="12.3" text-anchor="middle" fill="#141414" stroke="#141414" stroke-width="0.12" textLength="270.5" lengthAdjust="spacingAndGlyphs">Progression from indolent-type to acute-type</text>
<rect x="68.00" y="590.50" width="52.50" height="22.80" fill="#B8A1CB"/>
<rect x="68.00" y="613.30" width="52.50" height="25.00" fill="#FFE814"/>
<rect x="68.00" y="638.30" width="52.50" height="25.90" fill="#DFA2C7"/>
<rect x="68.00" y="664.20" width="52.50" height="22.80" fill="#B8A1CB"/>
<rect x="68.00" y="687.00" width="52.50" height="21.70" fill="#DFA2C7"/>
<rect x="68.00" y="708.70" width="52.50" height="22.30" fill="#FFE814"/>
<rect x="68.00" y="731.00" width="52.50" height="20.00" fill="#DFA2C7"/>
<rect x="121.50" y="599.30" width="149.10" height="8.60" fill="#5697D8"/>
<rect x="270.60" y="599.30" width="1.80" height="8.60" fill="#A89088"/>
<rect x="272.40" y="599.30" width="1.50" height="8.60" fill="#2A3560"/>
<rect x="273.90" y="599.30" width="1.70" height="8.60" fill="#D8E060"/>
<rect x="121.50" y="599.30" width="154.10" height="0.90" fill="rgba(0,0,0,0.18)"/>
<rect x="121.50" y="607.00" width="154.10" height="0.90" fill="rgba(0,0,0,0.18)"/>
<rect x="121.50" y="622.15" width="172.50" height="8.60" fill="#5697D8"/>
<rect x="294.00" y="622.15" width="1.60" height="8.60" fill="#9A9A9A"/>
<rect x="295.60" y="622.15" width="2.00" height="8.60" fill="#E8B820"/>
<rect x="297.60" y="622.15" width="1.00" height="8.60" fill="#2A2A2A"/>
<rect x="298.60" y="622.15" width="1.00" height="8.60" fill="#D8C860"/>
<rect x="299.60" y="622.15" width="1.40" height="8.60" fill="#1F2E60"/>
<rect x="121.50" y="622.15" width="179.50" height="0.90" fill="rgba(0,0,0,0.18)"/>
<rect x="121.50" y="629.85" width="179.50" height="0.90" fill="rgba(0,0,0,0.18)"/>
<rect x="121.50" y="667.85" width="167.40" height="8.60" fill="#5697D8"/>
<rect x="288.90" y="667.85" width="1.10" height="8.60" fill="#8A8A8A"/>
<rect x="290.00" y="667.85" width="4.20" height="8.60" fill="#1E3A50"/>
<rect x="121.50" y="667.85" width="172.70" height="0.90" fill="rgba(0,0,0,0.18)"/>
<rect x="121.50" y="675.55" width="172.70" height="0.90" fill="rgba(0,0,0,0.18)"/>
<rect x="121.50" y="690.70" width="201.90" height="8.60" fill="#5697D8"/>
<rect x="323.40" y="690.70" width="2.80" height="8.60" fill="#111111"/>
<rect x="121.50" y="690.70" width="204.70" height="0.90" fill="rgba(0,0,0,0.18)"/>
<rect x="121.50" y="698.40" width="204.70" height="0.90" fill="rgba(0,0,0,0.18)"/>
<rect x="121.50" y="713.55" width="240.80" height="8.60" fill="#5697D8"/>
<rect x="362.30" y="713.55" width="4.20" height="8.60" fill="#F0B020"/>
<rect x="366.50" y="713.55" width="1.50" height="8.60" fill="#222222"/>
<rect x="121.50" y="713.55" width="246.50" height="0.90" fill="rgba(0,0,0,0.18)"/>
<rect x="121.50" y="721.25" width="246.50" height="0.90" fill="rgba(0,0,0,0.18)"/>
<rect x="121.50" y="736.40" width="220.80" height="8.60" fill="#5697D8"/>
<rect x="342.30" y="736.40" width="2.30" height="8.60" fill="#707070"/>
<rect x="121.50" y="736.40" width="223.10" height="0.90" fill="rgba(0,0,0,0.18)"/>
<rect x="121.50" y="744.10" width="223.10" height="0.90" fill="rgba(0,0,0,0.18)"/>
<rect x="122.20" y="636.60" width="37.60" height="25.80" fill="#BEBEBE" stroke="#9C9C9C" stroke-width="1.2"/>
<text x="140.80" y="652.00" font-size="8.8" text-anchor="middle" fill="#000" stroke="#000" stroke-width="0.12">NA</text>
<path d="M113.23,608.50 L111.88,608.50 L111.88,601.48 L109.32,601.48 L109.32,600.60 Q111.61,600.53 112.02,598.83 L113.23,598.83 Z" fill="#141414"/>
<text x="116.00" y="631.35" font-size="13.5" text-anchor="end" fill="#141414" stroke="#141414" stroke-width="0.3">2</text>
<text x="116.00" y="654.20" font-size="13.5" text-anchor="end" fill="#141414" stroke="#141414" stroke-width="0.3">3</text>
<path d="M113.23,677.05 L111.88,677.05 L111.88,670.03 L109.32,670.03 L109.32,669.15 Q111.61,669.08 112.02,667.38 L113.23,667.38 Z" fill="#141414"/>
<text x="116.00" y="699.90" font-size="13.5" text-anchor="end" fill="#141414" stroke="#141414" stroke-width="0.3">2</text>
<path d="M113.23,722.75 L111.88,722.75 L111.88,715.73 L109.32,715.73 L109.32,714.85 Q111.61,714.78 112.02,713.08 L113.23,713.08 Z" fill="#141414"/>
<text x="116.00" y="745.60" font-size="13.5" text-anchor="end" fill="#141414" stroke="#141414" stroke-width="0.3">2</text>
<text x="28.50" y="631.80" font-size="13.4" text-anchor="start" fill="#141414" stroke="#141414" stroke-width="0.12" transform="translate(28.50 631.80) scale(1.015 1) translate(-28.50 -631.80)">P</text>
<path d="M42.47,631.80 L41.13,631.80 L41.13,624.83 L38.58,624.83 L38.58,623.96 Q40.86,623.89 41.26,622.21 L42.47,622.21 Z" fill="#141414"/>
<text x="45.13" y="631.80" font-size="13.4" text-anchor="start" fill="#141414" stroke="#141414" stroke-width="0.12" transform="translate(45.13 631.80) scale(1.015 1) translate(-45.13 -631.80)">4</text>
<text x="28.50" y="690.20" font-size="13.4" text-anchor="start" fill="#141414" stroke="#141414" stroke-width="0.12" transform="translate(28.50 690.20) scale(1.015 1) translate(-28.50 -690.20)">P</text>
<path d="M42.47,690.20 L41.13,690.20 L41.13,683.23 L38.58,683.23 L38.58,682.36 Q40.86,682.29 41.26,680.61 L42.47,680.61 Z" fill="#141414"/>
<text x="45.13" y="690.20" font-size="13.4" text-anchor="start" fill="#141414" stroke="#141414" stroke-width="0.12" transform="translate(45.13 690.20) scale(1.015 1) translate(-45.13 -690.20)">6</text>
<text x="28.50" y="739.60" font-size="13.4" text-anchor="start" fill="#141414" stroke="#141414" stroke-width="0.12" transform="translate(28.50 739.60) scale(1.015 1) translate(-28.50 -739.60)">P</text>
<text x="37.57" y="739.60" font-size="13.4" text-anchor="start" fill="#141414" stroke="#141414" stroke-width="0.12" transform="translate(37.57 739.60) scale(1.015 1) translate(-37.57 -739.60)">2</text>
<text x="45.13" y="739.60" font-size="13.4" text-anchor="start" fill="#141414" stroke="#141414" stroke-width="0.12" transform="translate(45.13 739.60) scale(1.015 1) translate(-45.13 -739.60)">0</text>
<line x1="27.00" y1="664.20" x2="496.00" y2="664.20" stroke="#000" stroke-width="1.7" stroke-dasharray="3.4 2.888" stroke-dashoffset="1.0"/>
<line x1="27.00" y1="708.70" x2="496.00" y2="708.70" stroke="#000" stroke-width="1.7" stroke-dasharray="3.4 2.888" stroke-dashoffset="1.0"/>
<rect x="401.00" y="593.60" width="94.60" height="147.60" fill="#fff" stroke="#000" stroke-width="1.5"/>
<rect x="405.80" y="598.40" width="26.60" height="26.60" fill="#B8A1CB" stroke="#000" stroke-width="1.6"/>
<rect x="405.80" y="636.20" width="26.60" height="26.60" fill="#FFE814" stroke="#000" stroke-width="1.6"/>
<rect x="405.80" y="673.40" width="26.60" height="26.60" fill="#DFA2C7" stroke="#000" stroke-width="1.6"/>
<rect x="405.60" y="710.60" width="36.00" height="25.60" fill="#BEBEBE" stroke="#A0A0A0" stroke-width="1.2"/>
<text x="423.40" y="727.30" font-size="9.4" text-anchor="middle" fill="#000" stroke="#000" stroke-width="0.12">NA</text>
<text x="437.00" y="615.30" font-size="11" text-anchor="start" fill="#141414" stroke="#141414" stroke-width="0.12" textLength="53.5" lengthAdjust="spacingAndGlyphs">Smoldering</text>
<text x="437.00" y="653.00" font-size="11" text-anchor="start" fill="#141414" stroke="#141414" stroke-width="0.12" textLength="37" lengthAdjust="spacingAndGlyphs">Chronic</text>
<text x="437.00" y="690.60" font-size="11" text-anchor="start" fill="#141414" stroke="#141414" stroke-width="0.12">Acute</text>
<text x="445.30" y="720.30" font-size="11" text-anchor="start" fill="#141414" stroke="#141414" stroke-width="0.12">Not</text>
<text x="445.30" y="733.80" font-size="11" text-anchor="start" fill="#141414" stroke="#141414" stroke-width="0.12" textLength="40" lengthAdjust="spacingAndGlyphs">available</text>
<line x1="67.80" y1="551.00" x2="67.80" y2="752.00" stroke="#000" stroke-width="1.6"/>
<line x1="120.50" y1="551.00" x2="120.50" y2="756.20" stroke="#000" stroke-width="1.9"/>
<line x1="27.50" y1="589.90" x2="496.00" y2="589.90" stroke="#000" stroke-width="1.8"/>
<line x1="27.50" y1="751.80" x2="488.00" y2="751.80" stroke="#000" stroke-width="1.8"/>
<line x1="120.60" y1="751.80" x2="120.60" y2="756.20" stroke="#000" stroke-width="1.6"/>
<text x="120.90" y="771.20" font-size="11.5" text-anchor="middle" fill="#141414" stroke="#141414" stroke-width="0.12">0</text>
<line x1="165.90" y1="751.80" x2="165.90" y2="756.20" stroke="#000" stroke-width="1.6"/>
<path d="M157.55,771.20 L156.40,771.20 L156.40,765.22 L154.22,765.22 L154.22,764.47 Q156.17,764.42 156.52,762.97 L157.55,762.97 Z" fill="#141414"/>
<text x="159.81" y="771.20" font-size="11.5" text-anchor="start" fill="#141414" stroke="#141414" stroke-width="0.12">000</text>
<line x1="211.20" y1="751.80" x2="211.20" y2="756.20" stroke="#000" stroke-width="1.6"/>
<text x="211.50" y="771.20" font-size="11.5" text-anchor="middle" fill="#141414" stroke="#141414" stroke-width="0.12">2000</text>
<line x1="256.50" y1="751.80" x2="256.50" y2="756.20" stroke="#000" stroke-width="1.6"/>
<text x="256.80" y="771.20" font-size="11.5" text-anchor="middle" fill="#141414" stroke="#141414" stroke-width="0.12">3000</text>
<line x1="301.80" y1="751.80" x2="301.80" y2="756.20" stroke="#000" stroke-width="1.6"/>
<text x="302.10" y="771.20" font-size="11.5" text-anchor="middle" fill="#141414" stroke="#141414" stroke-width="0.12">4000</text>
<line x1="347.10" y1="751.80" x2="347.10" y2="756.20" stroke="#000" stroke-width="1.6"/>
<text x="347.40" y="771.20" font-size="11.5" text-anchor="middle" fill="#141414" stroke="#141414" stroke-width="0.12">5000</text>
<line x1="392.40" y1="751.80" x2="392.40" y2="756.20" stroke="#000" stroke-width="1.6"/>
<text x="392.70" y="771.20" font-size="11.5" text-anchor="middle" fill="#141414" stroke="#141414" stroke-width="0.12">6000</text>
<line x1="437.70" y1="751.80" x2="437.70" y2="756.20" stroke="#000" stroke-width="1.6"/>
<text x="438.00" y="771.20" font-size="11.5" text-anchor="middle" fill="#141414" stroke="#141414" stroke-width="0.12">7000</text>
<line x1="483.00" y1="751.80" x2="483.00" y2="756.20" stroke="#000" stroke-width="1.6"/>
<text x="483.30" y="771.20" font-size="11.5" text-anchor="middle" fill="#141414" stroke="#141414" stroke-width="0.12">8000</text>
<text x="304.00" y="790.60" font-size="13.6" text-anchor="middle" fill="#141414" textLength="82.2" lengthAdjust="spacingAndGlyphs" stroke="#1a1a1a" stroke-width="0.45">Absolute clone size</text>
</svg>
<div id="frame"></div>
</body></html>
